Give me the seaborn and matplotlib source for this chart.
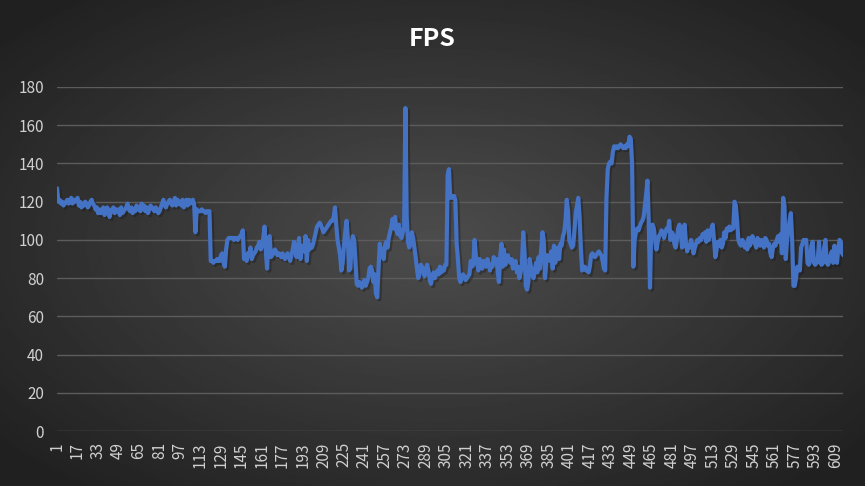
import matplotlib
matplotlib.use("Agg")
import matplotlib.pyplot as plt
import numpy as np
import pandas as pd
import seaborn as sns
import matplotlib.patheffects as pe

# FPS samples, 16 per tick interval
fps = [
    127, 120, 121, 119, 120, 118, 119, 120, 121, 119, 120, 122, 119, 121, 120, 121,
    122, 118, 120, 117, 119, 118, 120, 119, 117, 118, 120, 121, 119, 118, 116, 117,
    114, 116, 114, 115, 117, 113, 114, 117, 116, 112, 115, 116, 117, 114, 116, 115,
    116, 113, 117, 114, 115, 116, 117, 119, 116, 115, 117, 114, 116, 115, 118, 116,
    117, 115, 119, 116, 118, 115, 117, 114, 116, 118, 117, 116, 115, 117, 116, 114,
    115, 117, 119, 121, 118, 117, 119, 120, 121, 119, 118, 120, 122, 118, 121, 119,
    120, 118, 121, 117, 120, 121, 118, 121, 119, 120, 121, 119, 104, 116, 115, 115,
    115, 116, 115, 115, 114, 115, 115, 115, 89, 89, 88, 89, 89, 90, 89, 89,
    92, 93, 88, 86, 95, 100, 101, 101, 101, 101, 100, 101, 101, 100, 101, 102,
    103, 105, 90, 91, 89, 93, 92, 96, 90, 92, 93, 94, 96, 97, 99, 95,
    97, 101, 107, 94, 85, 101, 102, 91, 92, 93, 95, 94, 92, 93, 92, 91,
    93, 91, 90, 92, 93, 91, 89, 92, 95, 99, 94, 91, 96, 101, 90, 95,
    97, 94, 102, 89, 100, 95, 97, 96, 98, 101, 104, 107, 108, 109, 108, 106,
    104, 105, 106, 107, 108, 109, 110, 110, 112, 117, 108, 100, 96, 92, 84, 88,
    97, 104, 110, 101, 84, 85, 98, 102, 100, 88, 77, 76, 78, 77, 75, 77,
    79, 76, 78, 80, 85, 86, 84, 78, 82, 72, 70, 85, 98, 93, 95, 90,
    97, 99, 96, 101, 104, 107, 111, 106, 112, 105, 103, 108, 102, 101, 104, 107,
    169, 112, 99, 96, 98, 104, 101, 96, 91, 85, 80, 82, 87, 86, 84, 81,
    85, 87, 84, 79, 77, 81, 83, 80, 82, 84, 82, 86, 83, 85, 84, 87,
    87, 134, 137, 122, 123, 122, 123, 121, 98, 90, 80, 78, 80, 82, 81, 79,
    80, 81, 82, 89, 86, 87, 100, 92, 88, 84, 90, 87, 85, 89, 88, 86,
    90, 88, 84, 87, 86, 91, 88, 90, 84, 78, 91, 98, 86, 95, 87, 89,
    92, 90, 88, 90, 85, 87, 89, 83, 86, 80, 83, 88, 104, 94, 76, 74,
    78, 90, 86, 82, 80, 84, 88, 83, 91, 85, 95, 104, 100, 80, 88, 92,
    90, 89, 94, 85, 97, 88, 92, 96, 90, 98, 97, 102, 104, 110, 121, 115,
    100, 98, 96, 97, 105, 114, 118, 122, 112, 96, 84, 85, 86, 84, 85, 83,
    86, 92, 93, 92, 91, 92, 93, 94, 93, 92, 89, 85, 84, 122, 137, 140,
    141, 140, 146, 149, 148, 149, 148, 149, 150, 149, 148, 149, 148, 150, 149, 154,
    153, 140, 86, 100, 104, 106, 105, 107, 109, 110, 112, 118, 124, 131, 110, 75,
    107, 108, 106, 100, 95, 99, 102, 103, 105, 104, 101, 104, 106, 105, 110, 100,
    104, 103, 98, 96, 100, 106, 108, 105, 96, 97, 108, 99, 94, 97, 96, 100,
    98, 93, 96, 98, 100, 99, 101, 100, 103, 102, 104, 99, 105, 100, 103, 106,
    108, 100, 91, 95, 99, 97, 100, 96, 98, 104, 101, 106, 105, 107, 105, 106,
    106, 120, 118, 110, 100, 98, 97, 100, 99, 96, 98, 95, 101, 97, 99, 102,
    100, 98, 96, 101, 99, 97, 100, 98, 96, 101, 100, 97, 98, 93, 91, 96,
    98, 97, 100, 102, 99, 103, 93, 122, 118, 90, 100, 105, 110, 114, 100, 76,
    76, 80, 86, 85, 84, 96, 98, 100, 99, 100, 88, 87, 89, 97, 99, 88,
    87, 88, 90, 99, 88, 87, 88, 96, 100, 88, 87, 89, 92, 94, 88, 97,
    92, 88, 95, 100, 99, 93, 92,
]
frames = list(range(1, len(fps) + 1))
y_ticks = [0, 20, 40, 60, 80, 100, 120, 140, 160, 180]

df = pd.DataFrame({"frame": frames, "fps": fps})

sns.set_theme(style="dark")
plt.rcParams["font.family"] = ["Noto Sans CJK SC", "DejaVu Sans"]

fig = plt.figure(figsize=(8.65, 4.86), dpi=100)

# radial gradient background
bg = fig.add_axes([0, 0, 1, 1])
yy, xx = np.mgrid[-1:1:300j, -1:1:500j]
r = np.sqrt(xx ** 2 + yy ** 2)
bg.imshow(0.30 - 0.17 * np.clip(r / 1.3, 0, 1), cmap="gray", vmin=0, vmax=1,
          aspect="auto", extent=[0, 1, 0, 1])
bg.axis("off")

ax = fig.add_axes([0.066, 0.113, 0.909, 0.708])
ax.patch.set_alpha(0)
sns.lineplot(data=df, x="frame", y="fps", ax=ax, color="#4472C4", linewidth=3,
             path_effects=[pe.SimpleLineShadow(offset=(1.5, -1.5), alpha=0.4),
                           pe.Normal()])

ax.set_xlim(1, len(fps))
ax.set_ylim(0, 180)
ax.set_yticks(y_ticks)
ax.set_xticks(frames[::16])
ax.tick_params(axis="x", rotation=90, labelsize=11, colors="#d0d0d0", pad=2)
ax.tick_params(axis="y", labelsize=11, colors="#d0d0d0")
ax.grid(axis="y", color="#5c5c5c", linewidth=1)
ax.grid(axis="x", visible=False)
ax.set_axisbelow(True)
for s in ax.spines.values():
    s.set_visible(False)
ax.set_xlabel("")
ax.set_ylabel("")

fig.text(0.5, 0.92, "FPS", ha="center", va="center", color="white",
         fontsize=18, fontweight="bold")

fig.savefig("out.png", dpi=100)
